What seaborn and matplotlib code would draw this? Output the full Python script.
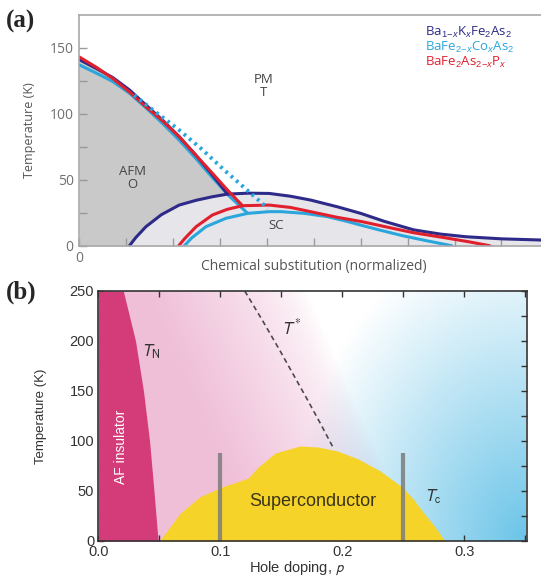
import numpy as np
import matplotlib
matplotlib.use("Agg")
import matplotlib.pyplot as plt
import seaborn as sns
from matplotlib.ticker import MultipleLocator, FormatStrFormatter

# ---- panel (a): iron pnictides ----
bak_afm_x = [0.0, 0.35, 0.71, 1.07, 1.42, 1.78, 2.13, 2.5, 2.84, 3.16]
bak_afm_t = [141, 134.5, 127.5, 118, 106.6, 95, 82.6, 68, 53.5, 39.1]
bak_sc_x = [1.07, 1.2, 1.42, 1.75, 2.13, 2.5, 2.84, 3.16, 3.6, 4.05, 4.5, 4.93,
            5.5, 6.0, 6.5, 7.13, 7.7, 8.24, 9.0, 9.85]
bak_sc_t = [0, 6, 14.4, 23.5, 30.8, 34.5, 37.1, 39.1, 39.8, 39.6, 37.5, 34.6,
            29.5, 24.5, 18.5, 12, 8.8, 6.8, 5.2, 4.3]

co_afm_x = [0.0, 0.35, 0.71, 1.07, 1.42, 1.78, 2.13, 2.5, 2.84, 3.2, 3.59]
co_afm_t = [137, 131, 124.5, 115.5, 104.5, 92.5, 80, 65.5, 51.5, 37.5, 24.5]
co_sc_x = [2.24, 2.4, 2.7, 3.13, 3.59, 4.05, 4.3, 4.8, 5.29, 5.7, 5.99, 6.4, 6.9, 7.4, 7.94]
co_sc_t = [0, 6, 14.4, 20.8, 24.5, 25.8, 25.8, 24.5, 22, 18.5, 15.7, 11.9, 7.5, 3.8, 0]
co_struct_x = [1.17, 1.6, 2.1, 2.6, 3.1, 3.55, 4.02]
co_struct_t = [114, 102, 88.5, 73.5, 57, 43, 28.3]

p_afm_x = [0.0, 0.35, 0.71, 1.07, 1.42, 1.78, 2.13, 2.5, 2.84, 3.15, 3.48]
p_afm_t = [143, 135.5, 126.8, 116.5, 105.3, 94.5, 82.6, 68, 54.8, 42.5, 30.3]
p_sc_x = [2.12, 2.25, 2.49, 2.84, 3.15, 3.48, 4.05, 4.5, 4.93, 5.5, 6.03, 6.6,
          7.13, 7.8, 8.3, 8.75]
p_sc_t = [0, 5.5, 14.4, 23.3, 27.5, 30.3, 30.8, 29, 25.8, 21.5, 18.2, 13.8,
          9.8, 6, 3, 0]

legend_names = [r"Ba$_{1\!-\!x}$K$_x$Fe$_2$As$_2$",
                r"BaFe$_{2\!-\!x}$Co$_x$As$_2$",
                r"BaFe$_2$As$_{2\!-\!x}$P$_x$"]

# ---- panel (b): cuprates ----
af_t = [250, 200, 150, 100, 50, 0]
af_x = [0.0205, 0.0305, 0.037, 0.042, 0.0456, 0.049]
dome_x = [0.050, 0.055, 0.067, 0.083, 0.100, 0.111, 0.123, 0.131, 0.145, 0.165,
          0.180, 0.196, 0.213, 0.231, 0.240, 0.249, 0.258, 0.266, 0.276, 0.284]
dome_t = [0, 8, 27.7, 44, 53.5, 58, 63, 74, 88, 95,
          94, 90, 82, 70, 62, 54, 42, 29, 14, 0]
tstar_x = [0.120, 0.135, 0.149, 0.160, 0.171, 0.182, 0.193]
tstar_t = [250, 219.5, 190, 166, 142, 117.5, 92]
marker_p = [0.10, 0.25]
marker_top = 88

navy = "#2e2a8a"
cyan = "#2ba6dc"
red = "#e1202e"

sns.set_theme(style="white")
plt.rcParams["font.family"] = ["Open Sans", "DejaVu Sans"]
plt.rcParams["mathtext.fontset"] = "custom"
plt.rcParams["mathtext.rm"] = "Liberation Sans"
plt.rcParams["mathtext.it"] = "Liberation Sans:style=italic"

fig = plt.figure(figsize=(5.41, 5.76), dpi=100)
W, H = 541, 576
ax1 = fig.add_axes([79.3 / W, 1 - 245.7 / H, (W - 79.3) / W, (245.7 - 15) / H])
ax2 = fig.add_axes([98.3 / W, 1 - 541 / H, (526.7 - 98.3) / W, (541 - 291) / H])

# ---------- (a) ----------
ax1.fill_between(bak_afm_x, bak_afm_t, 0, color="#c9c9c9", lw=0, zorder=0)
ax1.fill_between(bak_sc_x, bak_sc_t, 0, color="#e6e6ea", lw=0, zorder=0.5)

kw = dict(ax=ax1, sort=False, estimator=None, lw=2.2, legend=False)
sns.lineplot(x=co_afm_x, y=co_afm_t, color=cyan, **kw)
sns.lineplot(x=co_sc_x, y=co_sc_t, color=cyan, **kw)
sns.lineplot(x=bak_afm_x, y=bak_afm_t, color=navy, **kw)
sns.lineplot(x=bak_sc_x, y=bak_sc_t, color=navy, **kw)
sns.lineplot(x=p_afm_x, y=p_afm_t, color=red, **kw)
sns.lineplot(x=p_sc_x, y=p_sc_t, color=red, **kw)
sns.lineplot(x=co_struct_x, y=co_struct_t, color=cyan, ax=ax1, sort=False,
             estimator=None, lw=2.8, linestyle=(0, (0.7, 1.1)), legend=False)

ax1.set_xlim(0, (W - 79.3) / 46.9)
ax1.set_ylim(0, 174.8)
ax1.set_xticks(range(0, 10))
ax1.set_xticklabels(["0"] + [""] * 9)
ax1.set_yticks([0, 50, 100, 150])
ax1.yaxis.set_minor_locator(MultipleLocator(25))
ax1.tick_params(which="both", direction="in", length=6, width=1, color="#9a9a9a",
                labelcolor="#707070", labelsize=10, pad=4,
                left=True, bottom=True)
for s in ["left", "top", "bottom"]:
    ax1.spines[s].set_color("#a8a8a8")
    ax1.spines[s].set_linewidth(1.2)
ax1.spines["right"].set_visible(False)
ax1.set_ylabel("Temperature (K)", fontsize=9, color="#555555")
ax1.yaxis.set_label_coords(-0.093, 0.5)
ax1.set_xlabel("Chemical substitution (normalized)", fontsize=10, color="#555555")
ax1.xaxis.set_label_coords(0.508, -0.058)

ax1.text(3.92, 121, "PM\nT", ha="center", va="center", fontsize=9.5,
         color="#444444", linespacing=1.0)
ax1.text(1.14, 51, "AFM\nO", ha="center", va="center", fontsize=9.5,
         color="#444444", linespacing=1.0)
ax1.text(4.2, 15, "SC", ha="center", va="center", fontsize=9.5, color="#444444")
for name, c, t in zip(legend_names, [navy, cyan, red], [161.5, 150, 138.5]):
    ax1.text(7.37, t, name, ha="left", va="center", fontsize=9.5, color=c)

# ---------- (b) ----------
gx = np.linspace(0, 0.35, 400)
gt = np.linspace(0, 250, 300)
X, TT = np.meshgrid(gx, gt)
v = TT / 250
wp = np.clip((0.17 + 0.09 * (1 - v) - X) / 0.13, 0, 1) ** 0.7
u = (0.35 - X) / 0.35
wb = np.clip(1 - np.sqrt((u / 0.55) ** 2 + (v / 1.25) ** 2), 0, 1)
pink = np.array([0.94, 0.75, 0.85])
blue = np.array([0.42, 0.77, 0.91])
rgb = 1 - wp[..., None] * (1 - pink) - wb[..., None] * (1 - blue)
ax2.imshow(np.clip(rgb, 0, 1), extent=(0, 0.35, 0, 250), origin="lower",
           aspect="auto", zorder=0)

ax2.fill_betweenx(af_t, 0, af_x, color="#d33c79", lw=0, zorder=1)
ax2.fill_between(dome_x, dome_t, 0, color="#f5d328", lw=0, zorder=1)
ax2.vlines(marker_p, 0, marker_top, color="#7c7c7c", lw=3, alpha=0.85, zorder=2)
sns.lineplot(x=tstar_x, y=tstar_t, ax=ax2, sort=False, estimator=None,
             color="#4a4a4a", lw=1.2, linestyle=(0, (3, 2.2)), legend=False)

ax2.set_xlim(0, 0.351)
ax2.set_ylim(0, 250)
ax2.xaxis.set_major_locator(MultipleLocator(0.1))
ax2.xaxis.set_minor_locator(MultipleLocator(0.05))
ax2.xaxis.set_major_formatter(FormatStrFormatter("%.1f"))
ax2.yaxis.set_major_locator(MultipleLocator(50))
ax2.yaxis.set_minor_locator(MultipleLocator(25))
ax2.tick_params(which="both", direction="in", length=4, width=1, color="#333333",
                top=True, right=True, left=True, bottom=True,
                labelcolor="#333333", labelsize=10.5, pad=3)
for lab in ax2.get_xticklabels() + ax2.get_yticklabels():
    lab.set_family(["Liberation Sans"])
for s in ax2.spines.values():
    s.set_color("#333333")
    s.set_linewidth(1.2)
ax2.set_ylabel("Temperature (K)", fontsize=9.5, color="#333333",
               family=["Liberation Sans"])
ax2.yaxis.set_label_coords(-0.12, 0.5)
ax2.set_xlabel(r"Hole doping, $p$", fontsize=10.5, color="#333333",
               family=["Liberation Sans"], math_fontfamily="stixsans")
ax2.xaxis.set_label_coords(0.464, -0.072)

ax2.text(0.019, 94, "AF insulator", rotation=90, ha="center", va="center",
         fontsize=10, color="white", family=["Liberation Sans"])
tlab = dict(ha="center", va="center", fontsize=12, color="#333333",
            math_fontfamily="stixsans")
ax2.text(0.043, 189, r"$T_{\mathrm{N}}$", **tlab)
ax2.text(0.158, 213, r"$T^{*}$", **tlab)
ax2.text(0.274, 44, r"$T_{\mathrm{c}}$", **tlab)
ax2.text(0.176, 39, "Superconductor", ha="center", va="center", fontsize=13,
         color="#3a3418", family=["Liberation Sans"])

fig.text(6 / W, 1 - 21 / H, "(a)", ha="left", va="center", fontsize=18,
         fontweight="bold", family=["Liberation Serif", "DejaVu Serif"])
fig.text(6 / W, 1 - 292 / H, "(b)", ha="left", va="center", fontsize=18,
         fontweight="bold", family=["Liberation Serif", "DejaVu Serif"])

fig.savefig("out.png", dpi=100)
